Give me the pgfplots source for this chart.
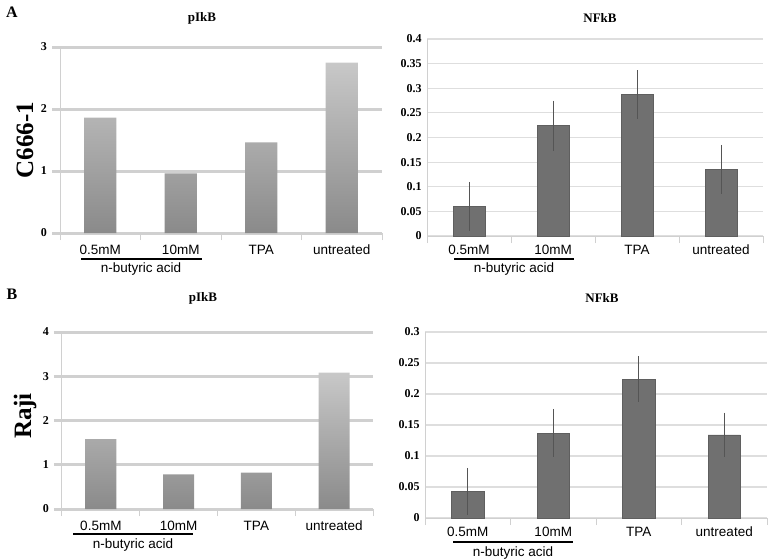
\documentclass[border=0pt]{standalone}
\usepackage{fontspec}
\setmainfont{Liberation Serif}
\newfontfamily\arial{Liberation Sans}
\usepackage{pgfplots}
\pgfplotsset{compat=1.18}

\definecolor{gridA}{RGB}{208,208,208}
\definecolor{gridB}{RGB}{222,222,222}
\definecolor{barTop}{RGB}{200,200,200}
\definecolor{barBot}{RGB}{138,138,138}
\definecolor{barDark}{RGB}{112,112,112}
\definecolor{errc}{RGB}{85,85,85}

\pgfplotsset{
  base/.style={
    scale only axis, clip=false, anchor=south west,
    xmin=-0.5, xmax=3.5, ymin=0,
    xtick={0,1,2,3},
    xticklabels={0.5mM,10mM,TPA,untreated},
    minor xtick={-0.5,0.5,1.5,2.5,3.5},
    xtick style={draw=none},
    minor tick length=7pt,
    minor x tick style={draw=gridA, line width=1pt},
    tick align=outside,
    xtick pos=bottom, ytick pos=left,
    axis x line*=bottom, axis y line*=left,
    axis line style={draw=gridA, line width=1pt, -},
    xticklabel style={font=\arial\fontsize{13.5}{15}\selectfont, inner sep=0pt},
    yticklabel style={font=\bfseries\fontsize{12}{14}\selectfont},
    /pgf/number format/assume math mode=true,
    ymajorgrids,
  },
  shaded/.style={base,
    grid style={draw=gridA, line width=3pt},
    ytick style={draw=gridA, line width=3pt},
    major tick length=8pt,
    xticklabel style={yshift=-4pt},
    yticklabel style={inner sep=1pt, xshift=-4pt},
  },
  flat/.style={base,
    grid style={draw=gridB, line width=1.2pt},
    ytick style={draw=none},
    xticklabel style={yshift=-4.5pt},
    yticklabel style={inner sep=1pt},
    /pgf/number format/fixed,
  },
  sbar/.style={ybar, bar width=0.4, draw=none, bar shift=0pt,
    top color=barTop, bottom color=barBot},
  dbar/.style={ybar, bar width=0.38, bar shift=0pt, fill=barDark, draw=barDark!85!black, line width=0.6pt,
    error bars/.cd, y dir=both, y explicit, error mark=none,
    error bar style={draw=errc, line width=1pt}},
}

\begin{document}
\begin{tikzpicture}
\path[use as bounding box] (0pt,0pt) rectangle (772pt,-560pt);

% A, pIkB
\begin{axis}[shaded, at={(60pt,-233pt)}, width=322pt, height=186pt,
  ymax=3, ytick={0,1,2,3}]
\addplot[sbar] coordinates {(0,1.86) (1,0.96) (2,1.46) (3,2.75)};
\end{axis}

% A, NFkB
\begin{axis}[flat, at={(427pt,-236pt)}, width=336pt, height=197pt,
  ymax=0.4, ytick={0,0.05,0.1,0.15,0.2,0.25,0.3,0.35,0.4},
  yticklabels={0,0.05,0.1,0.15,0.2,0.25,0.3,0.35,0.4}]
\addplot[dbar] coordinates {(0,0.060) +- (0,0.050) (1,0.224) +- (0,0.051) (2,0.287) +- (0,0.050) (3,0.135) +- (0,0.050)};
\end{axis}

% B, pIkB
\begin{axis}[shaded, at={(62pt,-509pt)}, width=311pt, height=177pt,
  ymax=4, ytick={0,1,2,3,4}]
\addplot[sbar] coordinates {(0,1.58) (1,0.78) (2,0.82) (3,3.08)};
\end{axis}

% B, NFkB
\begin{axis}[flat, at={(425pt,-518pt)}, width=342pt, height=186pt,
  ymax=0.3, ytick={0,0.05,0.1,0.15,0.2,0.25,0.3},
  yticklabels={0,0.05,0.1,0.15,0.2,0.25,0.3}]
\addplot[dbar] coordinates {(0,0.043) +- (0,0.038) (1,0.137) +- (0,0.039) (2,0.224) +- (0,0.037) (3,0.134) +- (0,0.036)};
\end{axis}

% titles and panel letters
\begin{scope}[every node/.style={font=\bfseries\fontsize{13}{15}\selectfont, inner sep=0pt}]
\node at (202pt,-18pt) {pIkB};
\node at (600pt,-18pt) {NFkB};
\node at (203pt,-298pt) {pIkB};
\node at (602pt,-298pt) {NFkB};
\end{scope}
\node[font=\bfseries\fontsize{16}{18}\selectfont] at (12pt,-12pt) {A};
\node[font=\bfseries\fontsize{16}{18}\selectfont] at (12pt,-294pt) {B};
\node[rotate=90, font=\bfseries\fontsize{25}{28}\selectfont] at (25pt,-140pt) {C666-1};
\node[rotate=90, font=\bfseries\fontsize{25}{28}\selectfont] at (25pt,-416pt) {Raji};

% n-butyric acid brackets
\begin{scope}[every node/.style={font=\arial\fontsize{13.5}{15}\selectfont, inner sep=0pt}]
\draw[line width=1.6pt] (81pt,-259pt) -- (202pt,-259pt);
\node at (141pt,-269pt) {n-butyric acid};
\draw[line width=1.6pt] (454pt,-259pt) -- (574pt,-259pt);
\node at (514pt,-269pt) {n-butyric acid};
\draw[line width=1.6pt] (73pt,-534pt) -- (193pt,-534pt);
\node at (133pt,-545pt) {n-butyric acid};
\draw[line width=1.6pt] (453pt,-542pt) -- (573pt,-542pt);
\node at (513pt,-553pt) {n-butyric acid};
\end{scope}
\end{tikzpicture}
\end{document}
